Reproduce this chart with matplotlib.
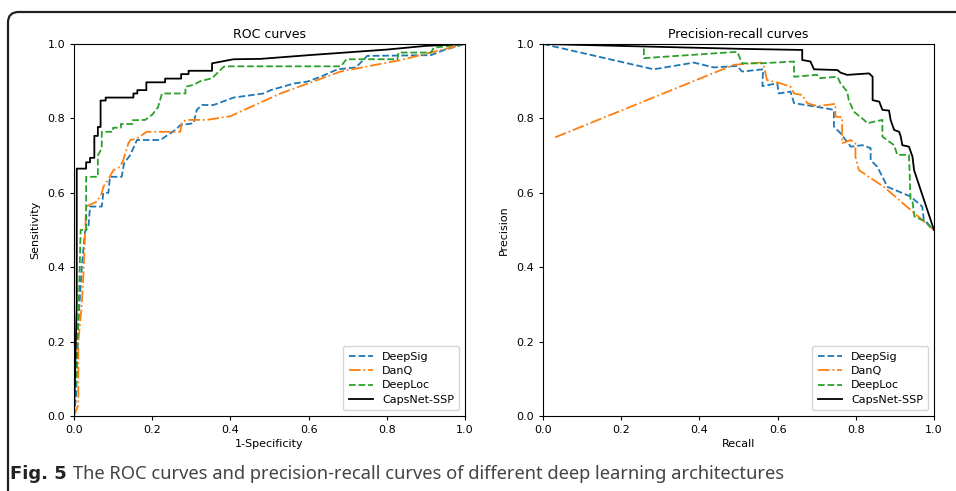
import numpy as np
import matplotlib
matplotlib.use("Agg")
import matplotlib.pyplot as plt
from matplotlib.patches import FancyBboxPatch

# ROC curves (1-specificity, sensitivity)
roc_deepsig_x = [0.0, 0.005, 0.007, 0.011, 0.02, 0.028, 0.037, 0.041, 0.071, 0.075, 0.088, 0.092, 0.122, 0.128,
                 0.144, 0.161, 0.221, 0.259, 0.272, 0.306, 0.314, 0.327, 0.357, 0.408, 0.485, 0.503, 0.563,
                 0.597, 0.631, 0.674, 0.721, 0.75, 0.913, 0.947, 1.0]
roc_deepsig_y = [0.0, 0.05, 0.1, 0.25, 0.4, 0.495, 0.509, 0.563, 0.563, 0.6, 0.6, 0.643, 0.643, 0.679,
                 0.702, 0.742, 0.742, 0.769, 0.782, 0.787, 0.823, 0.836, 0.836, 0.856, 0.867, 0.876, 0.894,
                 0.899, 0.912, 0.932, 0.937, 0.968, 0.97, 0.984, 1.0]
roc_danq_x = [0.0, 0.011, 0.011, 0.02, 0.025, 0.031, 0.058, 0.071, 0.075, 0.084, 0.101, 0.118, 0.126,
              0.139, 0.144, 0.161, 0.186, 0.272, 0.276, 0.289, 0.34, 0.4, 0.528, 0.682, 0.836, 1.0]
roc_danq_y = [0.0, 0.03, 0.2, 0.3, 0.4, 0.563, 0.576, 0.599, 0.616, 0.63, 0.661, 0.67, 0.688,
              0.733, 0.742, 0.746, 0.764, 0.764, 0.791, 0.796, 0.796, 0.806, 0.867, 0.926, 0.957, 1.0]
roc_deeploc_x = [0.0, 0.005, 0.011, 0.017, 0.031, 0.031, 0.061, 0.061, 0.071, 0.071, 0.1, 0.1, 0.12, 0.12,
                 0.15, 0.15, 0.182, 0.2, 0.215, 0.225, 0.285, 0.285, 0.305, 0.323, 0.353, 0.383, 0.4, 0.682,
                 0.697, 0.827, 0.83, 0.913, 0.92, 1.0]
roc_deeploc_y = [0.0, 0.1, 0.25, 0.5, 0.5, 0.643, 0.643, 0.7, 0.72, 0.764, 0.764, 0.775, 0.775, 0.785,
                 0.785, 0.795, 0.796, 0.81, 0.83, 0.867, 0.867, 0.885, 0.89, 0.9, 0.908, 0.939, 0.94, 0.94,
                 0.959, 0.959, 0.977, 0.977, 0.99, 1.0]
roc_caps_x = [0.0, 0.007, 0.007, 0.031, 0.031, 0.041, 0.041, 0.052, 0.052, 0.061, 0.061, 0.068, 0.068,
              0.081, 0.081, 0.152, 0.152, 0.162, 0.162, 0.185, 0.185, 0.233, 0.233, 0.274, 0.274, 0.293,
              0.293, 0.353, 0.353, 0.408, 0.477, 0.6, 0.8, 0.9, 1.0]
roc_caps_y = [0.0, 0.3, 0.665, 0.665, 0.682, 0.682, 0.694, 0.694, 0.753, 0.753, 0.777, 0.777, 0.848,
              0.848, 0.856, 0.856, 0.867, 0.867, 0.876, 0.876, 0.897, 0.897, 0.907, 0.907, 0.919, 0.919,
              0.928, 0.928, 0.948, 0.959, 0.96, 0.97, 0.985, 0.995, 1.0]

# Precision-recall curves (recall, precision)
pr_deepsig_x = [0.0, 0.283, 0.386, 0.437, 0.497, 0.509, 0.563, 0.561, 0.599, 0.603, 0.633, 0.642, 0.701,
                0.744, 0.744, 0.761, 0.787, 0.817, 0.838, 0.838, 0.855, 0.868, 0.881, 0.94, 0.97, 0.974, 1.0]
pr_deepsig_y = [1.0, 0.932, 0.95, 0.937, 0.941, 0.926, 0.932, 0.887, 0.894, 0.867, 0.872, 0.841, 0.831,
                0.823, 0.778, 0.76, 0.724, 0.728, 0.72, 0.688, 0.67, 0.643, 0.616, 0.59, 0.563, 0.527, 0.5]
pr_danq_x = [0.031, 0.488, 0.556, 0.563, 0.573, 0.608, 0.633, 0.642, 0.663, 0.676, 0.701, 0.748, 0.748,
             0.765, 0.765, 0.787, 0.799, 0.799, 0.808, 0.846, 0.872, 0.94, 1.0]
pr_danq_y = [0.749, 0.944, 0.95, 0.948, 0.903, 0.894, 0.885, 0.867, 0.863, 0.841, 0.833, 0.839, 0.805,
             0.803, 0.733, 0.742, 0.733, 0.697, 0.661, 0.634, 0.616, 0.554, 0.5]
pr_deeploc_x = [0.0, 0.258, 0.258, 0.497, 0.509, 0.556, 0.642, 0.642, 0.701, 0.706, 0.753, 0.761, 0.778,
                0.782, 0.795, 0.821, 0.829, 0.868, 0.868, 0.898, 0.906, 0.936, 0.94, 0.945, 0.95, 0.981, 0.995]
pr_deeploc_y = [1.0, 1.0, 0.962, 0.979, 0.948, 0.948, 0.953, 0.912, 0.917, 0.908, 0.912, 0.894, 0.872,
                0.849, 0.818, 0.796, 0.787, 0.796, 0.751, 0.728, 0.702, 0.702, 0.581, 0.576, 0.536, 0.522, 0.5]
pr_caps_x = [0.0, 0.505, 0.663, 0.663, 0.684, 0.693, 0.753, 0.761, 0.778, 0.834, 0.843, 0.843, 0.86,
             0.868, 0.885, 0.889, 0.898, 0.911, 0.915, 0.919, 0.936, 0.945, 0.949, 1.0]
pr_caps_y = [1.0, 0.987, 0.984, 0.957, 0.953, 0.932, 0.93, 0.923, 0.917, 0.921, 0.912, 0.849, 0.845,
             0.823, 0.821, 0.796, 0.769, 0.764, 0.751, 0.728, 0.724, 0.697, 0.661, 0.5]

labels = ["DeepSig", "DanQ", "DeepLoc", "CapsNet-SSP"]
colors = ["#1f77b4", "#ff7f0e", "#2ca02c", "black"]
styles = ["--", "-.", "--", "-"]

fig = plt.figure(figsize=(9.56, 4.91), dpi=100)

# rounded frame around the figure panel (cut by the right/bottom edges)
frame = FancyBboxPatch((8 / 956, -0.1), 1.2, 1 - 12 / 491 + 0.1,
                       boxstyle="round,pad=0,rounding_size=0.011", transform=fig.transFigure,
                       fill=False, edgecolor="#222222", linewidth=1.6, mutation_aspect=956 / 491)
fig.patches.append(frame)

ax1 = fig.add_axes([74 / 956, 1 - 416 / 491, 391 / 956, 372 / 491])
ax2 = fig.add_axes([543 / 956, 1 - 416 / 491, 391 / 956, 372 / 491])

roc = [(roc_deepsig_x, roc_deepsig_y), (roc_danq_x, roc_danq_y),
       (roc_deeploc_x, roc_deeploc_y), (roc_caps_x, roc_caps_y)]
pr = [(pr_deepsig_x, pr_deepsig_y), (pr_danq_x, pr_danq_y),
      (pr_deeploc_x, pr_deeploc_y), (pr_caps_x, pr_caps_y)]

for (x, y), lab, c, ls in zip(roc, labels, colors, styles):
    ax1.plot(x, y, ls, color=c, label=lab, linewidth=1.3)
for (x, y), lab, c, ls in zip(pr, labels, colors, styles):
    ax2.plot(x, y, ls, color=c, label=lab, linewidth=1.3)

for ax, title, xl, yl in [(ax1, "ROC curves", "1-Specificity", "Sensitivity"),
                          (ax2, "Precision-recall curves", "Recall", "Precision")]:
    ax.set_xlim(0, 1)
    ax.set_ylim(0, 1)
    ax.set_xticks(np.arange(0, 1.01, 0.2))
    ax.set_yticks(np.arange(0, 1.01, 0.2))
    ax.tick_params(labelsize=8, length=3, width=0.8)
    ax.set_title(title, fontsize=9, pad=4)
    ax.set_xlabel(xl, fontsize=8, labelpad=3)
    ax.set_ylabel(yl, fontsize=8, labelpad=5)
    ax.legend(loc="lower right", fontsize=8, handlelength=2.2, borderpad=0.5, labelspacing=0.4)

# caption: bold label followed by regular text
t1 = fig.text(10 / 956, 1 - 474 / 491, "Fig. 5", fontsize=13, fontweight="bold",
              family=["DejaVu Sans"], color="#222222", va="center")
fig.canvas.draw()
bb = t1.get_window_extent()
fig.text((bb.x1 + 6) / 956, 1 - 474 / 491,
         "The ROC curves and precision-recall curves of different deep learning architectures",
         fontsize=13.2, family=["Noto Sans", "DejaVu Sans"], color="#444444", va="center")

fig.savefig("out.png", dpi=100)
